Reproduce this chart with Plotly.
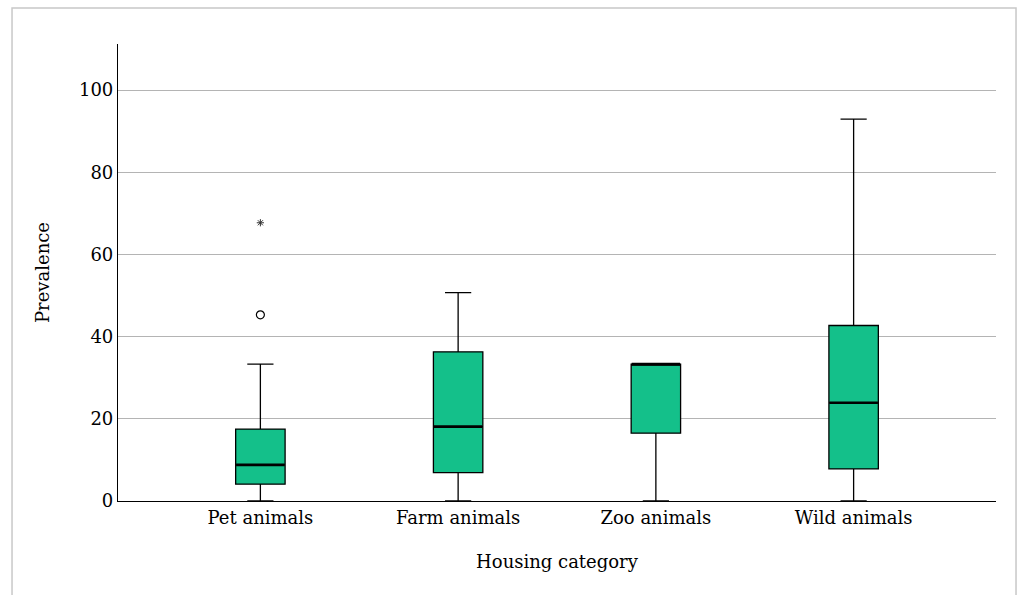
import plotly.graph_objects as go

# Prevalence summary per housing category
categories = ["Pet animals", "Farm animals", "Zoo animals", "Wild animals"]
lower_fence = [0.0, 0.0, 0.0, 0.0]
q1_values = [4.1, 6.9, 16.5, 7.8]
median_values = [8.8, 18.1, 33.3, 23.9]
q3_values = [17.5, 36.3, 33.3, 42.7]
upper_fence = [33.3, 50.7, 33.3, 92.9]

# Points beyond the whiskers (Pet animals)
outlier_cat = ["Pet animals"]
outlier_vals = [45.3]
extreme_cat = ["Pet animals"]
extreme_vals = [67.7]

FONT = "DejaVu Serif"
BOX_FILL = "#14c08a"

fig = go.Figure()

fig.add_trace(go.Box(
    x=categories,
    q1=q1_values,
    median=median_values,
    q3=q3_values,
    lowerfence=lower_fence,
    upperfence=upper_fence,
    fillcolor=BOX_FILL,
    line=dict(color="black", width=1.3),
    width=0.25,
    whiskerwidth=0.53,
    boxpoints=False,
    showlegend=False,
    hoverinfo="skip",
))

# Heavier median bars: a collapsed box sitting on each median
fig.add_trace(go.Box(
    x=categories,
    q1=median_values,
    median=median_values,
    q3=median_values,
    lowerfence=median_values,
    upperfence=median_values,
    fillcolor="rgba(0,0,0,0)",
    line=dict(color="black", width=2.6),
    width=0.245,
    whiskerwidth=0,
    boxpoints=False,
    showlegend=False,
    hoverinfo="skip",
))

fig.add_trace(go.Scatter(
    x=outlier_cat, y=outlier_vals, mode="markers",
    marker=dict(symbol="circle-open", size=8, color="black", line=dict(width=1.2)),
    showlegend=False,
))
fig.add_trace(go.Scatter(
    x=extreme_cat, y=extreme_vals, mode="markers",
    marker=dict(symbol="asterisk-open", size=6, color="#333333", line=dict(width=1)),
    showlegend=False,
))

# Outer frame around the chart
fig.add_shape(
    type="rect", xref="paper", yref="paper",
    x0=-0.1207, x1=1.0228, y0=-0.3, y1=1.0788,
    line=dict(color="#c8c8c8", width=1.5), fillcolor="rgba(0,0,0,0)", layer="below",
)

fig.update_layout(
    width=1019, height=595,
    margin=dict(l=118, r=23, t=44, b=94),
    paper_bgcolor="white", plot_bgcolor="white",
    font=dict(family=FONT, size=18, color="black"),
    boxmode="overlay",
    xaxis=dict(
        type="category",
        categoryorder="array", categoryarray=categories,
        range=[-0.72, 3.72],
        showline=True, linecolor="black", linewidth=1.2,
        showgrid=False, ticks="",
        tickfont=dict(family=FONT, size=18),
        title=dict(text="Housing category", font=dict(family=FONT, size=18), standoff=28),
    ),
    yaxis=dict(
        range=[0, 111.2],
        tickvals=[0, 20, 40, 60, 80, 100],
        showline=True, linecolor="black", linewidth=1.2,
        showgrid=True, gridcolor="#b4b4b4", gridwidth=1,
        zeroline=False, ticks="",
        tickfont=dict(family=FONT, size=18),
        title=dict(text="Prevalence", font=dict(family=FONT, size=18), standoff=24),
    ),
)

fig.write_html("out.html")
